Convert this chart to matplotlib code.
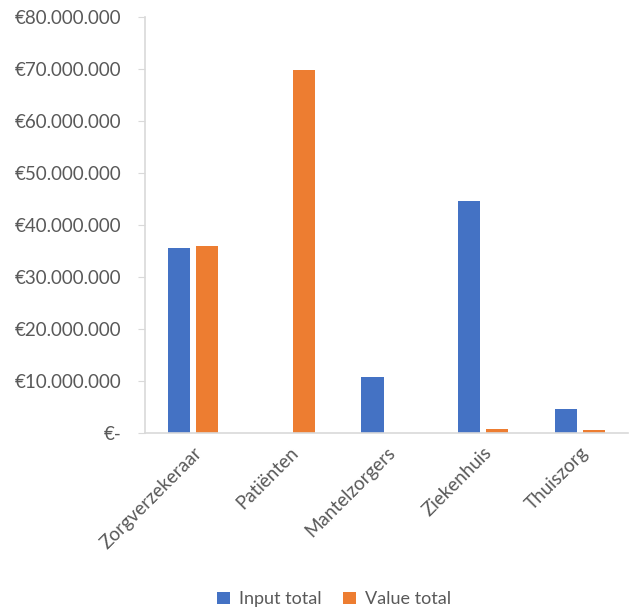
import numpy as np
import matplotlib.pyplot as plt
from matplotlib.ticker import FuncFormatter

plt.rcParams['font.family'] = ['Lato', 'DejaVu Sans']

categories = ['Zorgverzekeraar', 'Patiënten', 'Mantelzorgers', 'Ziekenhuis', 'Thuiszorg']
input_total = [35.6e6, 0, 10.8e6, 44.6e6, 4.6e6]
value_total = [36.0e6, 69.8e6, 0, 0.8e6, 0.6e6]

blue = '#4472C4'
orange = '#ED7D31'
grey = '#595959'
axis_grey = '#D9D9D9'

def euro(v, pos):
    if v == 0:
        return '€-'
    return '€' + format(int(v), ',').replace(',', '.')

fig = plt.figure(figsize=(6.3, 6.07), dpi=100)
ax = fig.add_axes([0.230, 0.287, 0.767, 0.685])

x = np.arange(len(categories))
w = 0.23
ax.bar(x - 0.145, input_total, w, color=blue, label='Input total')
ax.bar(x + 0.145, value_total, w, color=orange, label='Value total')

ax.set_xlim(-0.5, len(categories) - 0.5)
ax.set_ylim(0, 80e6)
ax.set_yticks(np.arange(0, 80e6 + 1, 10e6))
ax.yaxis.set_major_formatter(FuncFormatter(euro))
ax.set_xticks(x)
ax.set_xticklabels(categories, rotation=45, ha='right', rotation_mode='anchor')

for s in ['top', 'right']:
    ax.spines[s].set_visible(False)
for s in ['left', 'bottom']:
    ax.spines[s].set_color(axis_grey)
    ax.spines[s].set_linewidth(1.2)
ax.tick_params(axis='y', colors=axis_grey, labelcolor=grey, labelsize=13.5, length=5, pad=12)
ax.tick_params(axis='x', length=0, labelcolor=grey, labelsize=13.5, pad=8)

fig.legend(loc='lower center', bbox_to_anchor=(0.53, -0.027), ncol=2, frameon=False,
           fontsize=13, labelcolor=grey, handlelength=0.7, handleheight=0.7,
           columnspacing=1.2, handletextpad=0.5)

fig.savefig('out.png', dpi=100)
